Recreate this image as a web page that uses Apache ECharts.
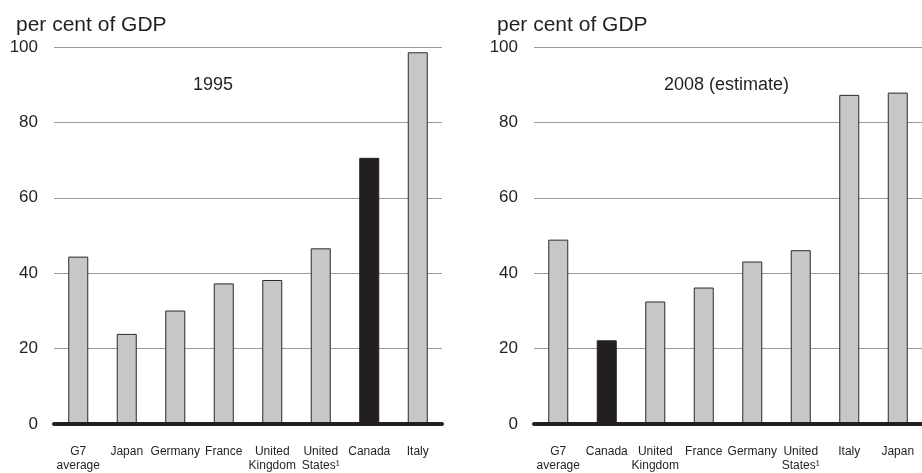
<!DOCTYPE html>
<html>
<head>
<meta charset="utf-8">
<script src="https://cdn.jsdelivr.net/npm/echarts@6/dist/echarts.min.js"></script>
<style>
html,body{margin:0;padding:0;background:#fff;}
#chart{width:922px;height:473px;}
</style>
</head>
<body>
<div id="chart"></div>
<script>
const categories1995 = ['G7\naverage','Japan','Germany','France','United\nKingdom','United\nStates¹','Canada','Italy'];
const values1995 = [44.4, 23.9, 30.1, 37.3, 38.2, 46.6, 70.6, 98.6];
const categories2008 = ['G7\naverage','Canada','United\nKingdom','France','Germany','United\nStates¹','Italy','Japan'];
const values2008 = [48.9, 22.2, 32.5, 36.2, 43.1, 46.1, 87.3, 87.9];
const yTicks = [0, 20, 40, 60, 80, 100];
const highlight = 'Canada';

const FONT = '"Liberation Sans", Arial, Helvetica, sans-serif';
const TXT = '#231f20';

function xAxisFor(idx, cats){
  return {
    type: 'category', gridIndex: idx, data: cats, z: 5,
    axisLine: {show: true, lineStyle: {color: TXT, width: 4}},
    axisTick: {show: false},
    axisLabel: {fontFamily: FONT, fontSize: 12, color: TXT, margin: 21, lineHeight: 14, interval: 0}
  };
}
function yAxisFor(idx){
  return {
    type: 'value', gridIndex: idx, min: yTicks[0], max: yTicks[yTicks.length-1], interval: 20,
    axisLine: {show: false}, axisTick: {show: false},
    axisLabel: {fontFamily: FONT, fontSize: 17, color: TXT, margin: 16},
    splitLine: {show: true, lineStyle: {color: '#9a9a9a', width: 1}}
  };
}
function barSeries(idx, cats, vals){
  return {
    type: 'bar', xAxisIndex: idx, yAxisIndex: idx, barWidth: 20,
    data: vals.map((v, i) => ({
      value: v,
      itemStyle: cats[i] === highlight
        ? {color: '#231f20', borderColor: '#231f20', borderWidth: 1}
        : {color: '#c6c7c9', borderColor: '#2a2a2a', borderWidth: 1}
    }))
  };
}

const chart = echarts.init(document.getElementById('chart'), null, {renderer: 'canvas'});
chart.setOption({
  animation: false,
  backgroundColor: '#fff',
  title: [
    {text: 'per cent of GDP', left: 11, top: 10, textStyle: {fontFamily: FONT, fontSize: 21, fontWeight: 'normal', color: TXT}},
    {text: 'per cent of GDP', left: 492, top: 10, textStyle: {fontFamily: FONT, fontSize: 21, fontWeight: 'normal', color: TXT}},
    {text: '1995', left: 188, top: 71, textStyle: {fontFamily: FONT, fontSize: 18, fontWeight: 'normal', color: TXT}},
    {text: '2008 (estimate)', left: 659, top: 71, textStyle: {fontFamily: FONT, fontSize: 18, fontWeight: 'normal', color: TXT}}
  ],
  grid: [
    {left: 54, width: 388, top: 47, height: 378},
    {left: 534, width: 390, top: 47, height: 378}
  ],
  xAxis: [xAxisFor(0, categories1995), xAxisFor(1, categories2008)],
  yAxis: [yAxisFor(0), yAxisFor(1)],
  series: [barSeries(0, categories1995, values1995), barSeries(1, categories2008, values2008)]
});
</script>
</body>
</html>
